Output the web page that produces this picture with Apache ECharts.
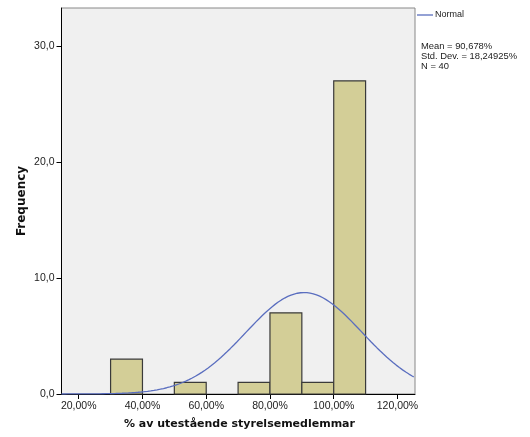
<!DOCTYPE html>
<html>
<head>
<meta charset="utf-8">
<script src="https://cdn.jsdelivr.net/npm/echarts@6/dist/echarts.min.js"></script>
<style>
html,body{margin:0;padding:0;background:#fff;}
#chart{width:530px;height:437px;}
</style>
</head>
<body>
<div id="chart"></div>
<script>
// Histogram bins (lower and upper edge, in %) and their frequencies
var binStart = [30, 50, 70, 80, 90, 100];
var binEnd   = [40, 60, 80, 90, 100, 110];
var frequency = [3, 1, 1, 7, 1, 27];

// Tick values for the axes
var xTicks = [20, 40, 60, 80, 100, 120];
var yTicks = [0, 10, 20, 30];

// Summary statistics printed next to the plot
var mean = 90.678;
var stdDev = 18.24925;
var n = 40;
var binWidth = 10;

// Normal curve scaled to the histogram counts
var curve = [];
for (var x = 14.6; x <= 125.5; x += 0.5) {
  var z = (x - mean) / stdDev;
  curve.push([x, n * binWidth / (stdDev * Math.sqrt(2 * Math.PI)) * Math.exp(-0.5 * z * z)]);
}

var bars = binStart.map(function (s, i) { return [s, binEnd[i], frequency[i]]; });

var fmtComma = function (v, d) { return v.toFixed(d).replace('.', ','); };

var chart = echarts.init(document.getElementById('chart'), null, {renderer: 'canvas'});
chart.setOption({
  animation: false,
  grid: {
    left: 61.5, top: 8, right: 115, bottom: 43,
    show: true, backgroundColor: '#f0f0f0', borderColor: '#888888', borderWidth: 1
  },
  xAxis: {
    type: 'value', min: 14.6, max: 125.5,
    splitLine: {show: false},
    axisLine: {show: true, onZero: false, lineStyle: {color: '#000', width: 1}},
    axisTick: {show: true, inside: false, length: 5, customValues: xTicks, lineStyle: {color: '#000'}},
    axisLabel: {
      customValues: xTicks, color: '#222', fontFamily: 'Liberation Sans, Arial', fontSize: 10.5, margin: 7,
      formatter: function (v) { return fmtComma(v, 2) + '%'; }
    }
  },
  yAxis: {
    type: 'value', min: 0, max: 33.28,
    splitLine: {show: false},
    axisLine: {show: true, lineStyle: {color: '#000', width: 1}},
    axisTick: {show: true, inside: false, length: 5, customValues: yTicks, lineStyle: {color: '#000'}},
    axisLabel: {
      customValues: yTicks, color: '#222', fontFamily: 'Liberation Sans, Arial', fontSize: 10.5, margin: 7,
      formatter: function (v) { return fmtComma(v, 1); }
    }
  },
  series: [
    {
      type: 'custom',
      data: bars,
      encode: {x: [0, 1], y: 2},
      renderItem: function (params, api) {
        var p0 = api.coord([api.value(0), api.value(2)]);
        var p1 = api.coord([api.value(1), 0]);
        return {
          type: 'rect',
          shape: {x: p0[0], y: p0[1], width: p1[0] - p0[0], height: p1[1] - p0[1]},
          style: {fill: '#d3ce97', stroke: '#3a3a3a', lineWidth: 1.2}
        };
      },
      z: 2
    },
    {
      type: 'line',
      data: curve,
      showSymbol: false,
      smooth: false,
      lineStyle: {color: '#5a6ebf', width: 1.3},
      z: 3
    }
  ],
  graphic: [
    {type: 'line', shape: {x1: 417, y1: 15, x2: 433, y2: 15}, style: {stroke: '#5a6ebf', lineWidth: 1.3}},
    {type: 'text', left: 435, top: 10, style: {text: 'Normal', fill: '#222', font: '9px "Liberation Sans", Arial'}},
    {type: 'text', left: 421, top: 42, style: {
      text: 'Mean = 90,678%\nStd. Dev. = 18,24925%\nN = 40',
      fill: '#222', font: '9.4px "Liberation Sans", Arial', lineHeight: 9.7}},
    {type: 'text', left: 124, top: 419, style: {
      text: '% av utestående styrelsemedlemmar', fill: '#111',
      font: 'bold 11px "DejaVu Sans"'}},
    {type: 'text', x: 22, y: 201, rotation: Math.PI / 2, style: {
      text: 'Frequency', fill: '#111', font: 'bold 12px "DejaVu Sans"',
      align: 'center', verticalAlign: 'middle'}}
  ]
});
</script>
</body>
</html>
